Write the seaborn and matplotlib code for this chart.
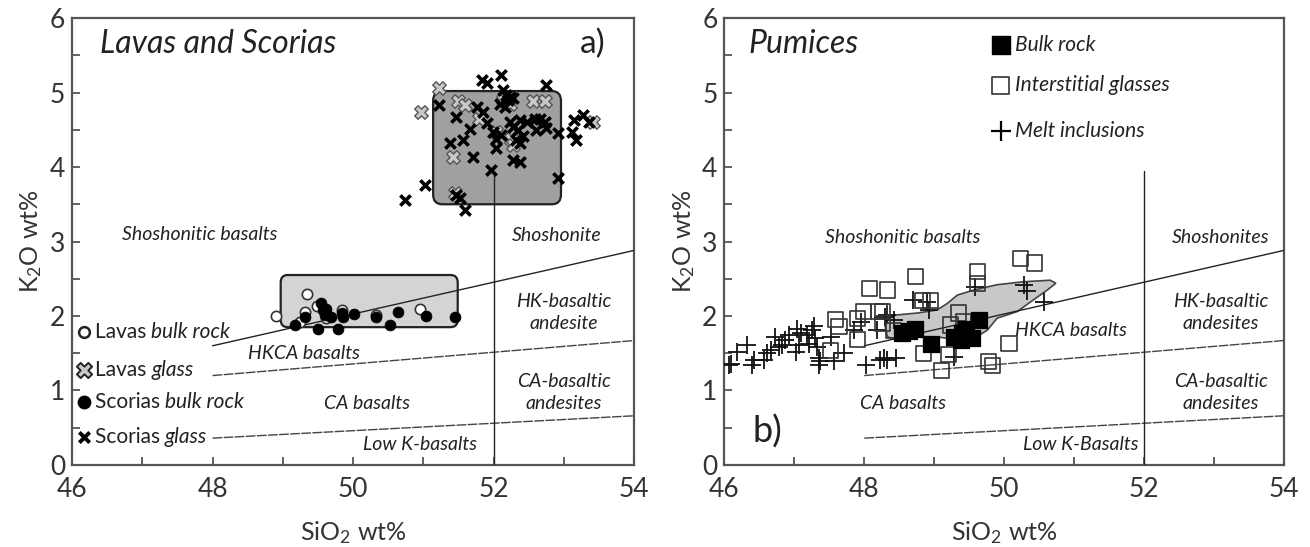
import numpy as np
import pandas as pd
import seaborn as sns
import matplotlib.pyplot as plt
from matplotlib.patches import FancyBboxPatch, Polygon

# ---- data ----
scoria_glass_sio2 = [51.83, 51.90, 52.11, 52.13, 52.18, 52.23, 52.75, 51.23, 51.47, 51.66,
                     51.38, 51.57, 51.71, 51.97, 51.02, 50.74, 51.52, 51.59, 52.92, 52.92,
                     53.18, 53.12, 53.15, 53.28, 53.36, 51.76, 51.85, 51.90, 51.99, 52.04,
                     52.04, 52.11, 52.23, 52.28, 52.35, 52.37, 52.47, 52.59, 52.66, 52.73,
                     52.61, 52.75, 52.42, 52.37, 52.28, 52.37, 52.09, 52.16, 52.21, 52.28,
                     51.47, 52.32]
scoria_glass_k2o = [5.17, 5.13, 5.23, 5.03, 4.97, 4.94, 5.10, 4.83, 4.67, 4.51,
                    4.32, 4.36, 4.13, 3.96, 3.76, 3.56, 3.58, 3.42, 4.45, 3.85,
                    4.36, 4.47, 4.63, 4.70, 4.61, 4.81, 4.74, 4.59, 4.47, 4.38,
                    4.25, 4.43, 4.61, 4.54, 4.50, 4.63, 4.61, 4.64, 4.65, 4.61,
                    4.50, 4.52, 4.41, 4.32, 4.10, 4.07, 4.85, 4.81, 4.90, 4.92,
                    3.62, 4.36]

lava_glass_sio2 = [51.23, 50.97, 51.50, 51.59, 51.80, 51.42, 51.45, 52.56, 52.73, 53.42,
                   52.25, 52.28, 52.23, 52.13, 52.04]
lava_glass_k2o = [5.06, 4.74, 4.88, 4.83, 4.65, 4.14, 3.65, 4.88, 4.88, 4.61,
                  4.38, 4.30, 4.85, 4.90, 4.47]

lava_bulk_sio2 = [49.34, 48.91, 49.31, 49.48, 49.62, 50.33, 50.95, 49.24, 49.84]
lava_bulk_k2o = [2.30, 2.00, 2.06, 2.13, 1.97, 2.01, 2.10, 1.92, 2.08]

scoria_bulk_sio2 = [49.17, 49.31, 49.55, 49.57, 49.60, 49.69, 49.84, 49.86, 50.02, 50.33,
                    50.64, 51.04, 51.45, 49.50, 49.79, 50.52, 49.62]
scoria_bulk_k2o = [1.88, 1.99, 2.17, 2.08, 2.01, 1.99, 2.04, 1.99, 2.03, 1.98,
                   2.05, 2.00, 1.98, 1.82, 1.82, 1.88, 2.10]

pumice_bulk_sio2 = [48.54, 48.73, 48.95, 49.28, 49.40, 49.45, 49.54, 49.64, 49.38, 48.64]
pumice_bulk_k2o = [1.77, 1.83, 1.63, 1.72, 1.77, 1.83, 1.70, 1.95, 1.68, 1.80]

interstitial_sio2 = [48.33, 48.73, 49.62, 49.62, 50.23, 50.43, 48.83, 48.95, 49.35, 49.42,
                     49.23, 48.85, 49.21, 49.11, 49.78, 49.83, 50.07, 48.26, 48.26, 48.42,
                     48.07, 47.99, 48.21, 47.90, 47.59, 47.64, 47.90, 47.52]
interstitial_k2o = [2.35, 2.53, 2.60, 2.44, 2.77, 2.71, 2.21, 2.21, 2.04, 1.92,
                    1.88, 1.50, 1.48, 1.27, 1.39, 1.34, 1.63, 2.06, 1.90, 1.81,
                    2.37, 2.06, 2.06, 1.97, 1.95, 1.86, 1.68, 1.54]

melt_incl_sio2 = [46.06, 46.09, 46.18, 46.32, 46.42, 46.40, 46.56, 46.61, 46.66, 46.73,
                  46.78, 46.83, 46.87, 46.92, 47.02, 47.06, 47.09, 47.18, 47.21, 47.25,
                  47.28, 47.30, 47.33, 47.35, 47.35, 47.37, 47.52, 47.56, 47.71, 47.85,
                  47.95, 48.02, 48.23, 48.33, 48.18, 48.33, 48.42, 47.04, 48.69, 48.90,
                  48.92, 49.59, 50.28, 50.33, 50.57, 48.30, 49.28, 48.28, 48.45]
melt_incl_k2o = [1.34, 1.36, 1.52, 1.61, 1.41, 1.34, 1.41, 1.50, 1.54, 1.72,
                 1.59, 1.61, 1.68, 1.75, 1.52, 1.61, 1.77, 1.75, 1.63, 1.81,
                 1.86, 1.70, 1.59, 1.43, 1.34, 1.39, 1.72, 1.39, 1.50, 1.81,
                 1.92, 1.34, 1.41, 1.41, 1.81, 2.01, 1.95, 1.83, 2.21, 2.19,
                 2.08, 2.39, 2.42, 2.33, 2.19, 1.99, 1.45, 1.43, 1.43]

# bulk-rock field of pumices
pumice_field_sio2 = [48.33, 48.42, 48.76, 49.04, 49.19, 49.33, 49.57, 49.90, 50.28, 50.66,
                     50.74, 50.62, 50.38, 50.19, 49.90, 49.76, 49.57, 49.33, 49.04, 48.76,
                     48.47, 48.33, 48.30]
pumice_field_k2o = [1.95, 2.01, 2.04, 2.08, 2.17, 2.28, 2.35, 2.42, 2.46, 2.48,
                    2.44, 2.35, 2.19, 2.06, 1.97, 1.81, 1.70, 1.68, 1.72, 1.72,
                    1.68, 1.72, 1.86]

# classification boundaries (SiO2 start/end, K2O start/end)
sho_line = ([48, 54], [1.6, 2.88])
hk_line = ([48, 54], [1.2, 1.67])
ca_line = ([48, 54], [0.36, 0.66])
vline_top = 3.95

# ---- style ----
sns.set_theme(style="ticks")
plt.rcParams['font.family'] = ['Lato', 'DejaVu Sans']
plt.rcParams['mathtext.fontset'] = 'custom'
plt.rcParams['mathtext.rm'] = 'Lato'
plt.rcParams['mathtext.it'] = 'Lato:italic'

fig = plt.figure(figsize=(13.1, 5.47), dpi=100)
ax1 = fig.add_axes([0.055, 0.150, 0.429, 0.817])
ax2 = fig.add_axes([0.553, 0.150, 0.427, 0.817])

txt_color = '#222222'
lab_fs = 14
leg_fs = 15


def mixed_label(ax, x, y, plain, ital, fs=leg_fs):
    t = ax.text(x, y, plain, fontsize=fs, color=txt_color, va='center', ha='left')
    ax.annotate(ital, xy=(1, 0), xycoords=t, xytext=(0, 0), textcoords='offset points',
                fontsize=fs, style='italic', color=txt_color, va='bottom', ha='left')


def frame(ax):
    ax.set_xlim(46, 54)
    ax.set_ylim(0, 6)
    ax.set_xticks([46, 48, 50, 52, 54])
    ax.set_xticks([47, 49, 51, 53], minor=True)
    ax.set_yticks(range(7))
    ax.set_yticks(np.arange(0.5, 6, 1), minor=True)
    ax.tick_params(which='both', direction='in', color='#555555', width=1.3,
                   labelsize=19, labelcolor='#333333', top=False, right=False)
    ax.tick_params(which='both', length=6)
    ax.tick_params(axis='x', pad=9)
    ax.tick_params(axis='y', pad=5)
    for s in ax.spines.values():
        s.set_visible(True)
        s.set_color('#555555')
        s.set_linewidth(1.6)
    ax.set_xlabel(r'SiO$_2$ wt%', fontsize=18, color='#333333', labelpad=12)
    ax.set_ylabel(r'K$_2$O wt%', fontsize=18, color='#333333', labelpad=4)
    # classification lines
    ax.plot(*sho_line, color='#222222', lw=1.0, zorder=3)
    ax.plot(*hk_line, color='#444444', lw=1.0, ls=(0, (7, 1)), zorder=3)
    ax.plot(*ca_line, color='#444444', lw=1.0, ls=(0, (7, 1)), zorder=3)
    ax.plot([52, 52], [0, vline_top], color='#222222', lw=1.0, zorder=3)


# ---- panel a ----
frame(ax1)
ax1.add_patch(FancyBboxPatch((51.14, 3.50), 1.82, 1.52,
                             boxstyle='round,pad=0,rounding_size=0.13',
                             fc='#a0a0a0', ec='#222222', lw=1.6, zorder=1))
ax1.add_patch(FancyBboxPatch((48.97, 1.85), 2.52, 0.70,
                             boxstyle='round,pad=0,rounding_size=0.1',
                             fc='#d4d4d4', ec='#222222', lw=1.6, zorder=1))

sns.scatterplot(x=lava_bulk_sio2, y=lava_bulk_k2o, ax=ax1, marker='o', s=55,
                facecolor='white', edgecolor='#333333', linewidth=1.2, zorder=4)
sns.scatterplot(x=scoria_bulk_sio2, y=scoria_bulk_k2o, ax=ax1, marker='o', s=60,
                color='black', edgecolor='black', zorder=5)
sns.scatterplot(x=lava_glass_sio2, y=lava_glass_k2o, ax=ax1, marker='X', s=95,
                facecolor='#c8c8c8', edgecolor='#555555', linewidth=1.0, zorder=4)
sns.scatterplot(x=scoria_glass_sio2, y=scoria_glass_k2o, ax=ax1, marker='x', s=55,
                color='black', linewidth=2.6, zorder=5)

ax1.text(46.4, 5.65, 'Lavas and Scorias', fontsize=23, style='italic', color=txt_color, va='center')
ax1.text(53.6, 5.65, 'a)', fontsize=24, color=txt_color, va='center', ha='right')
ax1.text(47.82, 3.09, 'Shoshonitic basalts', fontsize=lab_fs, style='italic', color=txt_color, ha='center', va='center')
ax1.text(52.9, 3.08, 'Shoshonite', fontsize=lab_fs, style='italic', color=txt_color, ha='center', va='center')
ax1.text(53.0, 2.05, 'HK-basaltic\nandesite', fontsize=lab_fs, style='italic', color=txt_color,
         ha='center', va='center', linespacing=1.35)
ax1.text(49.3, 1.49, 'HKCA basalts', fontsize=lab_fs, style='italic', color=txt_color, ha='center', va='center')
ax1.text(50.2, 0.83, 'CA basalts', fontsize=lab_fs, style='italic', color=txt_color, ha='center', va='center')
ax1.text(53.0, 0.97, 'CA-basaltic\nandesites', fontsize=lab_fs, style='italic', color=txt_color,
         ha='center', va='center', linespacing=1.35)
ax1.text(50.95, 0.27, 'Low K-basalts', fontsize=lab_fs, style='italic', color=txt_color, ha='center', va='center')

# legend of panel a
leg_x = 46.17
ax1.scatter([leg_x], [1.79], marker='o', s=60, facecolor='white', edgecolor='#222222', linewidth=1.8, zorder=5)
mixed_label(ax1, leg_x + 0.15, 1.79, 'Lavas ', 'bulk rock')
ax1.scatter([leg_x], [1.28], marker='X', s=120, facecolor='#c8c8c8', edgecolor='#222222', linewidth=1.4, zorder=5)
mixed_label(ax1, leg_x + 0.15, 1.28, 'Lavas ', 'glass')
ax1.scatter([leg_x], [0.85], marker='o', s=80, color='black', zorder=5)
mixed_label(ax1, leg_x + 0.15, 0.85, 'Scorias ', 'bulk rock')
ax1.scatter([leg_x], [0.38], marker='x', s=55, color='black', linewidth=2.8, zorder=5)
mixed_label(ax1, leg_x + 0.15, 0.38, 'Scorias ', 'glass')

# ---- panel b ----
frame(ax2)
ax2.add_patch(Polygon(np.column_stack([pumice_field_sio2, pumice_field_k2o]), closed=True,
                      fc='#c8c8c8', ec='#444444', lw=1.2, zorder=1))

sns.scatterplot(x=melt_incl_sio2, y=melt_incl_k2o, ax=ax2, marker='+', s=150,
                color='#111111', linewidth=1.3, zorder=4)
sns.scatterplot(x=interstitial_sio2, y=interstitial_k2o, ax=ax2, marker='s', s=120,
                facecolor='none', edgecolor='#333333', linewidth=1.2, zorder=4)
sns.scatterplot(x=pumice_bulk_sio2, y=pumice_bulk_k2o, ax=ax2, marker='s', s=130,
                color='black', edgecolor='black', zorder=5)

ax2.text(46.35, 5.65, 'Pumices', fontsize=23, style='italic', color=txt_color, va='center')
ax2.text(46.4, 0.45, 'b)', fontsize=26, color=txt_color, va='center')
ax2.text(48.55, 3.05, 'Shoshonitic basalts', fontsize=lab_fs, style='italic', color=txt_color, ha='center', va='center')
ax2.text(53.1, 3.05, 'Shoshonites', fontsize=lab_fs, style='italic', color=txt_color, ha='center', va='center')
ax2.text(53.1, 2.05, 'HK-basaltic\nandesites', fontsize=lab_fs, style='italic', color=txt_color,
         ha='center', va='center', linespacing=1.35)
ax2.text(50.95, 1.81, 'HKCA basalts', fontsize=lab_fs, style='italic', color=txt_color, ha='center', va='center')
ax2.text(48.55, 0.83, 'CA basalts', fontsize=lab_fs, style='italic', color=txt_color, ha='center', va='center')
ax2.text(53.1, 0.97, 'CA-basaltic\nandesites', fontsize=lab_fs, style='italic', color=txt_color,
         ha='center', va='center', linespacing=1.35)
ax2.text(51.1, 0.27, 'Low K-Basalts', fontsize=lab_fs, style='italic', color=txt_color, ha='center', va='center')

# legend of panel b
lx = 49.95
ax2.scatter([lx], [5.64], marker='s', s=150, color='black', zorder=5)
ax2.text(lx + 0.2, 5.64, 'Bulk rock', fontsize=leg_fs, style='italic', color=txt_color, va='center')
ax2.scatter([lx], [5.10], marker='s', s=150, facecolor='none', edgecolor='#333333', linewidth=1.2, zorder=5)
ax2.text(lx + 0.2, 5.10, 'Interstitial glasses', fontsize=leg_fs, style='italic', color=txt_color, va='center')
ax2.scatter([lx], [4.48], marker='+', s=190, color='black', linewidth=1.6, zorder=5)
ax2.text(lx + 0.2, 4.48, 'Melt inclusions', fontsize=leg_fs, style='italic', color=txt_color, va='center')

fig.savefig('out.png', dpi=100)
